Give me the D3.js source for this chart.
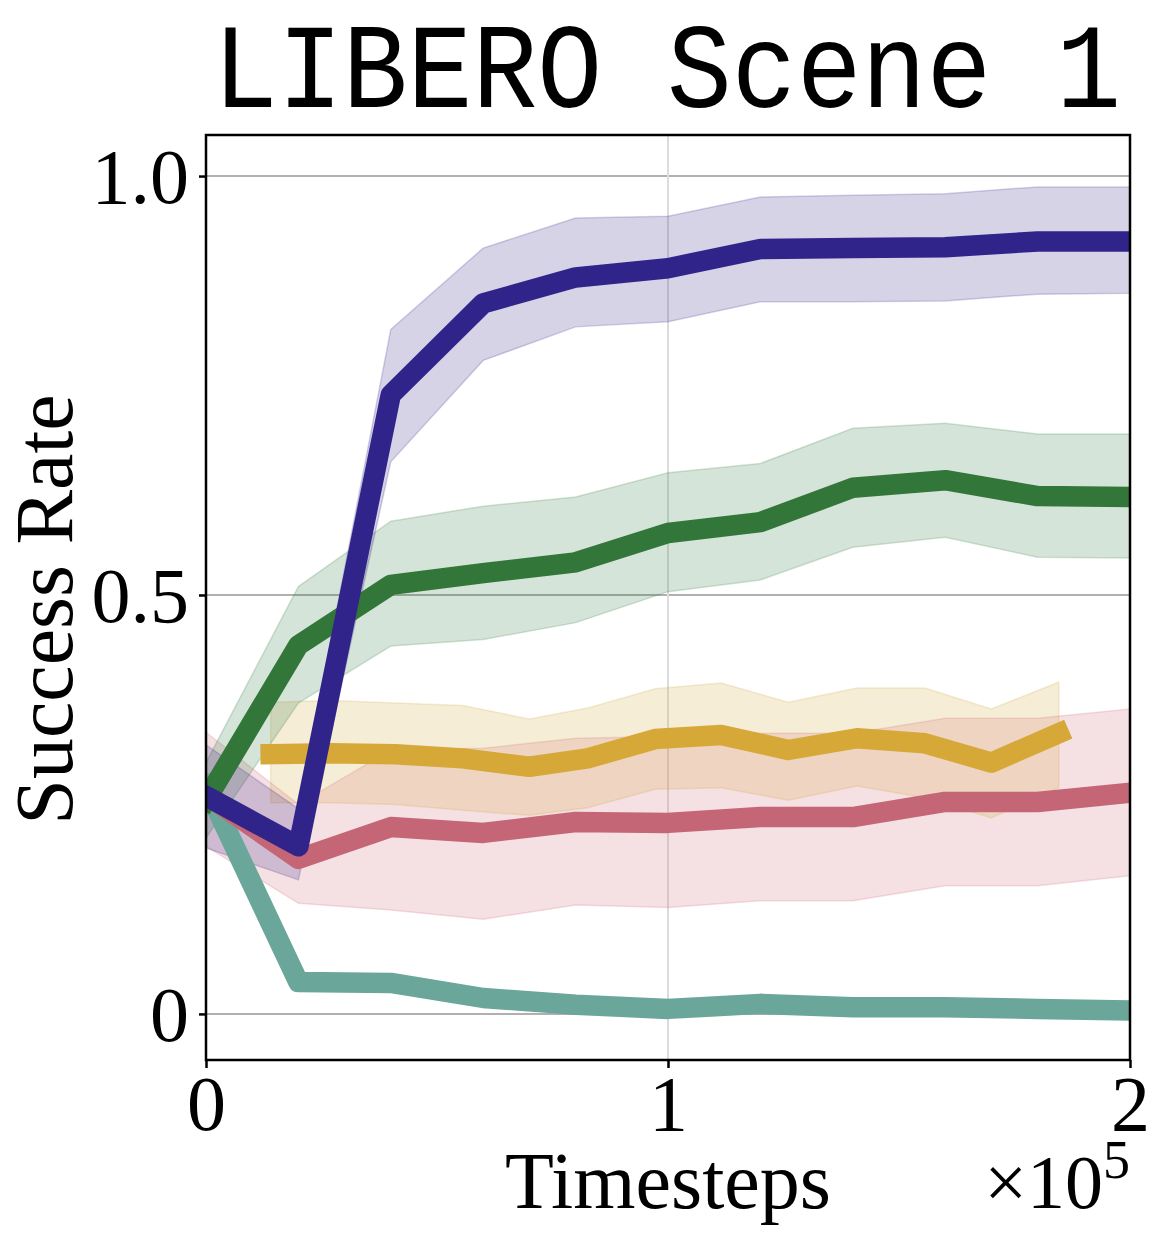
<!DOCTYPE html>
<html>
<head>
<meta charset="utf-8">
<script src="https://cdn.jsdelivr.net/npm/d3@7"></script>
<style>
  html, body { margin: 0; padding: 0; background: #fff; }
  svg { display: block; }
</style>
</head>
<body>
<svg id="chart" width="1165" height="1243"></svg>
<script>
// ---------------- DATA ----------------
const titleText = "LIBERO Scene 1";
const xLabel = "Timesteps";
const yLabel = "Success Rate";
const xTickValues = [0, 100000, 200000];
const xTickLabels = ["0", "1", "2"];
const yTickValues = [0, 0.5, 1.0];
const yTickLabels = ["0", "0.5", "1.0"];

const steps = [0, 20000, 40000, 60000, 80000, 100000, 120000, 140000, 160000, 180000, 200000];

const tealMean  = [0.272, 0.038, 0.037, 0.019, 0.011, 0.006, 0.012, 0.008, 0.008, 0.006, 0.004];
const tealUpper = [0.287, 0.043, 0.041, 0.022, 0.014, 0.009, 0.015, 0.011, 0.011, 0.009, 0.007];
const tealLower = [0.257, 0.033, 0.033, 0.016, 0.008, 0.003, 0.009, 0.005, 0.005, 0.003, 0.001];

const redMean  = [0.262, 0.185, 0.223, 0.216, 0.229, 0.228, 0.235, 0.235, 0.253, 0.253, 0.264];
const redUpper = [0.336, 0.250, 0.315, 0.317, 0.329, 0.331, 0.335, 0.335, 0.353, 0.353, 0.364];
const redLower = [0.200, 0.132, 0.124, 0.113, 0.130, 0.127, 0.135, 0.135, 0.153, 0.153, 0.165];

const yellowSteps = [14000, 27000, 41000, 55600, 70000, 82600, 97200, 111500, 126000, 140900, 155600, 170000, 184600];
const yellowMean  = [0.310, 0.311, 0.310, 0.305, 0.295, 0.305, 0.328, 0.333, 0.315, 0.329, 0.323, 0.300, 0.335];
const yellowUpper = [0.372, 0.374, 0.371, 0.368, 0.352, 0.365, 0.388, 0.395, 0.372, 0.389, 0.389, 0.364, 0.396];
const yellowLower = [0.252, 0.252, 0.250, 0.243, 0.237, 0.246, 0.268, 0.270, 0.255, 0.272, 0.258, 0.234, 0.270];

const greenMean  = [0.255, 0.440, 0.512, 0.526, 0.539, 0.574, 0.587, 0.628, 0.637, 0.618, 0.617];
const greenUpper = [0.300, 0.510, 0.588, 0.606, 0.617, 0.646, 0.657, 0.699, 0.705, 0.692, 0.692];
const greenLower = [0.210, 0.371, 0.439, 0.447, 0.467, 0.504, 0.518, 0.557, 0.569, 0.545, 0.544];

const purpleMean  = [0.260, 0.200, 0.739, 0.848, 0.879, 0.890, 0.913, 0.914, 0.915, 0.922, 0.922];
const purpleUpper = [0.321, 0.245, 0.817, 0.914, 0.950, 0.952, 0.975, 0.977, 0.979, 0.987, 0.987];
const purpleLower = [0.198, 0.160, 0.659, 0.780, 0.820, 0.826, 0.850, 0.850, 0.851, 0.859, 0.860];

const seriesColors = {
  teal: "#6aa79a", red: "#c46675", yellow: "#d5a838", green: "#33763a", purple: "#30248a"
};
const bandColors = {
  teal: "#44aa99", red: "#cc6677", yellow: "#d4a636", green: "#2d783c", purple: "#332288"
};

// ---------------- LAYOUT ----------------
const svg = d3.select("#chart");
const plot = { left: 206, right: 1130, top: 135, bottom: 1060 };

const x = d3.scaleLinear().domain([0, 200000]).range([plot.left, plot.right]);
const y = d3.scaleLinear().domain([-0.055, 1.049]).range([plot.bottom, plot.top]);

const serif = "'Liberation Serif', 'Times New Roman', serif";

svg.append("defs").append("clipPath").attr("id", "plotclip")
  .append("rect")
  .attr("x", plot.left).attr("y", plot.top)
  .attr("width", plot.right - plot.left).attr("height", plot.bottom - plot.top);

// grid
const grid = svg.append("g");
grid.selectAll("line.hg").data(yTickValues).join("line")
  .attr("x1", plot.left).attr("x2", plot.right)
  .attr("y1", d => y(d)).attr("y2", d => y(d))
  .attr("stroke", "#b0b0b0").attr("stroke-width", 2);
grid.selectAll("line.vg").data(xTickValues).join("line")
  .attr("x1", d => x(d)).attr("x2", d => x(d))
  .attr("y1", plot.top).attr("y2", plot.bottom)
  .attr("stroke", "#dcdcdc").attr("stroke-width", 2);

// series
function mk(stepsArr, mean, upper, lower) {
  return stepsArr.map((s, i) => ({ s, m: mean[i], u: upper[i], l: lower[i] }));
}
const series = [
  { key: "teal",   data: mk(steps, tealMean, tealUpper, tealLower) },
  { key: "red",    data: mk(steps, redMean, redUpper, redLower) },
  { key: "yellow", data: mk(yellowSteps, yellowMean, yellowUpper, yellowLower) },
  { key: "green",  data: mk(steps, greenMean, greenUpper, greenLower) },
  { key: "purple", data: mk(steps, purpleMean, purpleUpper, purpleLower) }
];

const area = d3.area().x(d => x(d.s)).y0(d => y(d.l)).y1(d => y(d.u));
const line = d3.line().x(d => x(d.s)).y(d => y(d.m));

const content = svg.append("g").attr("clip-path", "url(#plotclip)");
const bands = content.append("g");
series.forEach(sr => {
  bands.append("path").datum(sr.data)
    .attr("d", area)
    .attr("fill", bandColors[sr.key]).attr("fill-opacity", 0.2)
    .attr("stroke", bandColors[sr.key]).attr("stroke-opacity", 0.2)
    .attr("stroke-width", 1.5);
});
const lines = content.append("g");
series.forEach(sr => {
  lines.append("path").datum(sr.data)
    .attr("d", line)
    .attr("fill", "none")
    .attr("stroke", seriesColors[sr.key])
    .attr("stroke-width", 20.5)
    .attr("stroke-linecap", "square")
    .attr("stroke-linejoin", "round");
});

// frame
svg.append("rect")
  .attr("x", plot.left).attr("y", plot.top)
  .attr("width", plot.right - plot.left).attr("height", plot.bottom - plot.top)
  .attr("fill", "none").attr("stroke", "#000").attr("stroke-width", 2.5);

// axes
const yAxis = d3.axisLeft(y).tickValues(yTickValues)
  .tickFormat((d, i) => yTickLabels[i]).tickSize(7).tickPadding(10);
const gy = svg.append("g").attr("transform", `translate(${plot.left},0)`).call(yAxis);
gy.select(".domain").remove();
gy.selectAll(".tick line").attr("stroke", "#000").attr("stroke-width", 2.5);
gy.selectAll(".tick text").attr("font-family", serif).attr("font-size", 78)
  .attr("fill", "#000").attr("dy", "0.34em").attr("x", -17);

const xAxis = d3.axisBottom(x).tickValues(xTickValues)
  .tickFormat((d, i) => xTickLabels[i]).tickSize(8).tickPadding(10);
const gx = svg.append("g").attr("transform", `translate(0,${plot.bottom})`).call(xAxis);
gx.select(".domain").remove();
gx.selectAll(".tick line").attr("stroke", "#000").attr("stroke-width", 2.5);
gx.selectAll(".tick text").attr("font-family", serif).attr("font-size", 78)
  .attr("fill", "#000").attr("dy", null).attr("y", 70);

// labels
svg.append("text")
  .attr("x", (plot.left + plot.right) / 2).attr("y", 1208)
  .attr("text-anchor", "middle")
  .attr("font-family", serif).attr("font-size", 80).attr("fill", "#000")
  .text(xLabel);

const mult = svg.append("text")
  .attr("x", 1130).attr("y", 1208)
  .attr("text-anchor", "end")
  .attr("font-family", serif).attr("font-size", 76).attr("fill", "#000");
mult.append("tspan").text("\u00d710");
mult.append("tspan").attr("font-size", 54).attr("dy", -30).text("5");

svg.append("text")
  .attr("transform", `translate(72,${(plot.top + plot.bottom) / 2 + 12}) rotate(-90)`)
  .attr("text-anchor", "middle")
  .attr("font-family", serif).attr("font-size", 82).attr("fill", "#000")
  .text(yLabel);

svg.append("text")
  .attr("x", 213).attr("y", 107)
  .attr("font-family", "'Liberation Mono', 'Courier New', monospace")
  .attr("font-size", 120)
  .attr("textLength", 908).attr("lengthAdjust", "spacingAndGlyphs")
  .attr("fill", "#000")
  .text(titleText);
</script>
</body>
</html>
